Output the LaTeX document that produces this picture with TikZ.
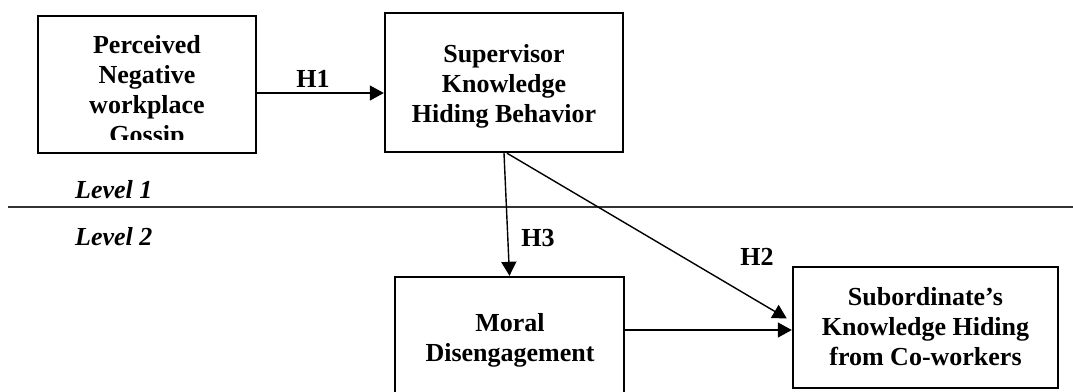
\documentclass[tikz,border=0pt]{standalone}
\usepackage{fontspec}
\setmainfont{Liberation Serif}
\usetikzlibrary{arrows.meta,calc}
\tikzset{
  box/.style={draw=black, line width=2.4pt, rectangle, inner sep=0pt},
  txt/.style={font=\bfseries\fontsize{26}{30}\selectfont, align=center, inner sep=0pt, anchor=base},
  lvl/.style={font=\bfseries\itshape\fontsize{26}{30}\selectfont, inner sep=0pt, anchor=base west},
  hyp/.style={font=\bfseries\fontsize{26}{30}\selectfont, inner sep=0pt, anchor=base},
  arr/.style={line width=1.4pt, -{Triangle[length=14pt,width=15pt]}},
  sep/.style={line width=1.4pt, draw=black!80}
}
\begin{document}
\begin{tikzpicture}[x=1pt,y=-1pt]
\useasboundingbox (0,0) rectangle (1073,391);
% boxes
\node[box, minimum width=218pt, minimum height=137pt] (b1) at (147,84.5) {};
\node[box, minimum width=238pt, minimum height=139pt] (b2) at (504,82.5) {};
\node[box, minimum width=229pt, minimum height=121pt] (b3) at (509.5,337.5) {};
\node[box, minimum width=265pt, minimum height=121pt] (b4) at (925.5,327.5) {};
% texts
\begin{scope}
\clip (38,16) rectangle (256,139);
\node[txt] (t1) at (147,143) {Perceived\\Negative\\workplace\\Gossip};
\end{scope}
\node[txt] (t2) at (504,122) {Supervisor\\Knowledge\\Hiding Behavior};
\node[txt] (t3) at (510,361) {Moral\\Disengagement};
\node[txt] (t4) at (925.5,365) {Subordinate’s\\Knowledge Hiding\\from Co-workers};
% levels
\node[lvl] (l1) at (75,198) {Level 1};
\node[lvl] (l2) at (75,245) {Level 2};
\coordinate (sl) at (8,207);
\coordinate (sr) at (1073,207);
\draw[sep] (sl) -- (sr);
% connectors
\coordinate (h1y) at (0,93);
\coordinate (mdy) at (0,330);
\draw[arr] (b1.east |- h1y) -- (b2.west |- h1y);
\draw[arr] (b2.south) -- (b3.north);
\draw[arr] ($(b2.south)+(3,0)$) -- ($(b4.west)+(-5,-9)$);
\draw[arr] (b3.east |- mdy) -- (b4.west |- mdy);
% labels
\node[hyp] (H1) at (313,87) {H1};
\node[hyp] (H3) at (538,246) {H3};
\node[hyp] (H2) at (757,265) {H2};
\end{tikzpicture}
\end{document}
